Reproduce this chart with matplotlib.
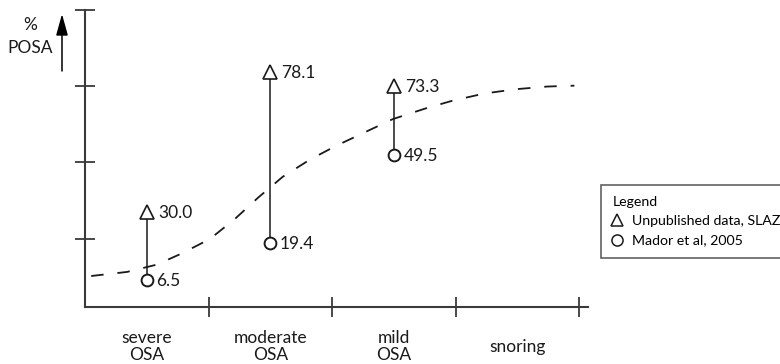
import matplotlib
matplotlib.use("Agg")
import matplotlib.pyplot as plt

plt.rcParams['font.family'] = ['Lato', 'DejaVu Sans']
plt.rcParams['lines.scale_dashes'] = False

categories = ['severe\nOSA', 'moderate\nOSA', 'mild\nOSA', 'snoring']
slaz = [30.0, 78.1, 73.3]      # Unpublished data, SLAZ
mador = [6.5, 19.4, 49.5]      # Mador et al, 2005

# dashed trend curve
curve_x = [0.05, 0.34, 0.58, 0.78, 1.01, 1.21, 1.40, 1.60, 1.82,
           2.03, 2.28, 2.49, 2.75, 2.97, 3.23, 3.49, 3.74, 3.96]
curve_y = [7.9, 9.3, 11.8, 15.6, 20.6, 27.4, 34.8, 42.0, 47.9,
           52.6, 57.6, 61.8, 65.4, 68.1, 70.6, 72.1, 73.0, 73.3]

ytick_pos = [20.6, 47.1, 73.2, 99.3]

axis_col = '#3a3a3a'
ink = '#1a1a1a'

fig = plt.figure(figsize=(7.8, 3.64), dpi=100)
ax = fig.add_axes([85 / 780, 1 - 307 / 364, 503 / 780, 297 / 364])

ax.plot(curve_x, curve_y, color=ink, lw=1.3, dashes=(9, 10))

xs = [i + 0.5 for i in range(len(slaz))]
for x, lo, hi in zip(xs, mador, slaz):
    ax.plot([x, x], [lo, hi], color=ink, lw=1.1, zorder=2)
tri, = ax.plot(xs, slaz, ls='none', marker='^', ms=9.5, mfc='white',
               mec=ink, mew=1.2, zorder=3)
circ, = ax.plot(xs, mador, ls='none', marker='o', ms=8.5, mfc='white',
                mec=ink, mew=1.4, zorder=3)

for x, v in zip(xs, slaz):
    ax.annotate(f'{v:.1f}', (x, v), xytext=(8, -1), textcoords='offset points',
                ha='left', va='center', fontsize=12.5, color=ink)
for x, v in zip(xs, mador):
    ax.annotate(f'{v:.1f}', (x, v), xytext=(7, -1), textcoords='offset points',
                ha='left', va='center', fontsize=12.5, color=ink)

ax.set_xlim(0, 4.07)
ax.set_ylim(-2.75, 99.3)

for s in ['top', 'right']:
    ax.spines[s].set_visible(False)
for s in ['left', 'bottom']:
    ax.spines[s].set_color(axis_col)
    ax.spines[s].set_linewidth(1.5)

ax.set_xticks(range(1, len(categories) + 1))
ax.set_xticklabels([])
ax.set_yticks(ytick_pos)
ax.set_yticklabels([])
ax.tick_params(axis='x', direction='inout', length=15, width=1.3, color=axis_col)
ax.tick_params(axis='y', direction='inout', length=14, width=1.3, color=axis_col)

for i, c in enumerate(categories):
    ax.text(i + 0.5, -0.133, c, transform=ax.get_xaxis_transform(),
            ha='center', va='center', fontsize=12.5, linespacing=1.1,
            color=ink, clip_on=False)

# y label with arrow
fig.text(30 / 780, 1 - 25 / 364, '%', ha='center', va='center', fontsize=12.5, color=ink)
fig.text(30 / 780, 1 - 48 / 364, 'POSA', ha='center', va='center', fontsize=12.5, color=ink)
ax.annotate('', xy=(62 / 780, 1 - 14 / 364), xytext=(62 / 780, 1 - 71 / 364),
            xycoords='figure fraction', textcoords='figure fraction',
            arrowprops=dict(arrowstyle='-|>,head_length=1.3,head_width=0.36',
                            color='black', lw=1.1, mutation_scale=10,
                            shrinkA=0, shrinkB=0))

leg = ax.legend([tri, circ], ['Unpublished data, SLAZ', 'Mador et al, 2005'],
                title='Legend', alignment='left', fontsize=10.2, title_fontsize=10.2,
                loc='upper left', bbox_to_anchor=(601 / 780, 1 - 185 / 364),
                bbox_transform=fig.transFigure, borderaxespad=0,
                borderpad=0.8, handlelength=0.72, handletextpad=0.7,
                labelspacing=0.5, fancybox=False, framealpha=1)
leg.get_frame().set_edgecolor('#555555')
leg.get_frame().set_linewidth(1.1)
for h in leg.legend_handles:
    h.set_markersize(8)
    h.set_markeredgewidth(1.1)

fig.savefig('out.png', dpi=100)
